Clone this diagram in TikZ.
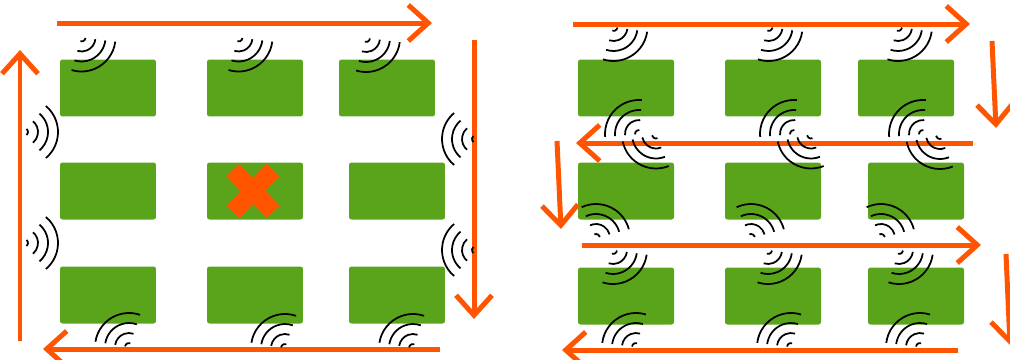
\documentclass[tikz,border=0pt]{standalone}
\usepackage{tikz}
\usetikzlibrary{arrows.meta,positioning,calc}
\definecolor{cellgreen}{RGB}{90,164,27}
\definecolor{routeorange}{RGB}{255,85,0}
% signal mark: centre, facing angle (y runs down)
\newcommand{\wave}[2]{%
  \draw[sig] ([shift={(#2-50:4)}]#1) arc[start angle=#2-50, delta angle=100, radius=4]
    ([shift={(#2-50:14)}]#1) arc[start angle=#2-50, delta angle=100, radius=14]
    ([shift={(#2-50:24)}]#1) arc[start angle=#2-50, delta angle=100, radius=24]
    ([shift={(#2-50:34)}]#1) arc[start angle=#2-50, delta angle=100, radius=34];}

\begin{document}
\begin{tikzpicture}[x=0.02cm, y=-0.02cm,
  >={Straight Barb[length=0.4cm,width=0.72cm]},
  cell/.style={fill=cellgreen, rounded corners=0.05cm, minimum width=1.92cm,
               minimum height=1.14cm, inner sep=0pt},
  route/.style={draw=routeorange, line width=0.1cm, ->},
  sig/.style={draw=black, line width=0.035cm},
  fail/.style={draw=routeorange, line width=0.36cm}]
\useasboundingbox (0,0) rectangle (1010,359);

% left field
\node[cell] (l11) at (108,88) {};
\node[cell] (l12) at (255,88) {};
\node[cell] (l13) at (387,88) {};
\node[cell] (l21) at (108,191) {};
\node[cell] (l22) at (255,191) {};
\node[cell] (l23) at (397,191) {};
\node[cell] (l31) at (108,295) {};
\node[cell] (l32) at (255,295) {};
\node[cell] (l33) at (397,295) {};
\draw[fail] ([shift={(-22,-21)}]l22.center) -- ([shift={(18,21)}]l22.center);
\draw[fail] ([shift={(18,-21)}]l22.center) -- ([shift={(-22,21)}]l22.center);

% right field
\node[cell] (r11) at (626,88) {};
\node[cell] (r12) at (773,88) {};
\node[cell] (r13) at (906,88) {};
\node[cell] (r21) at (626,191) {};
\node[cell] (r22) at (773,191) {};
\node[cell] (r23) at (916,191) {};
\node[cell] (r31) at (626,296) {};
\node[cell] (r32) at (773,296) {};
\node[cell] (r33) at (916,296) {};

% routes
\coordinate (la) at (57,23);   \coordinate (lb) at (432,23);
\coordinate (lc) at (474,40);  \coordinate (ld) at (474,319);
\coordinate (le) at (440,349); \coordinate (lf) at (43,349);
\coordinate (lg) at (20,341);  \coordinate (lh) at (20,50);
\draw[route] (la) -- (lb); \draw[route] (lc) -- (ld);
\draw[route] (le) -- (lf); \draw[route] (lg) -- (lh);

\coordinate (ra) at (573,24);  \coordinate (rb) at (970,24);
\coordinate (rc) at (992,41);  \coordinate (rd) at (996,128);
\coordinate (re) at (973,143); \coordinate (rf) at (576,143);
\coordinate (rg) at (557,141); \coordinate (rh) at (561,229);
\coordinate (ri) at (582,245); \coordinate (rj) at (981,245);
\coordinate (rk) at (1006,254); \coordinate (rl) at (1010,345);
\coordinate (rm) at (958,350); \coordinate (rn) at (562,350);
\draw[route] (ra) -- (rb); \draw[route] (rc) -- (rd);
\draw[route] (re) -- (rf); \draw[route] (rg) -- (rh);
\draw[route] (ri) -- (rj); \draw[route] (rk) -- (rl);
\draw[route] (rm) -- (rn);

% signals, left
\wave{81.5,37.5}{57} \wave{238.5,37.5}{57} \wave{366,38}{57}
\wave{476,139}{180} \wave{476,250}{180}
\wave{24,132}{0} \wave{24,243}{0}
\wave{129,347}{239} \wave{285,348}{239} \wave{413,348}{239}

% signals, right
\wave{613.5,27}{58} \wave{768.5,27}{58} \wave{898,27}{58}
\wave{639,134}{225} \wave{794,134}{225} \wave{923,134}{225}
\wave{656,134.5}{118} \wave{811,134.5}{118} \wave{940,135}{118}
\wave{596,238}{295} \wave{751,238}{295} \wave{881,238}{295}
\wave{613,250}{58} \wave{768,250}{58} \wave{899,250}{58}
\wave{636,347}{237} \wave{791,347}{237} \wave{920,347}{237}
\end{tikzpicture}
\end{document}
